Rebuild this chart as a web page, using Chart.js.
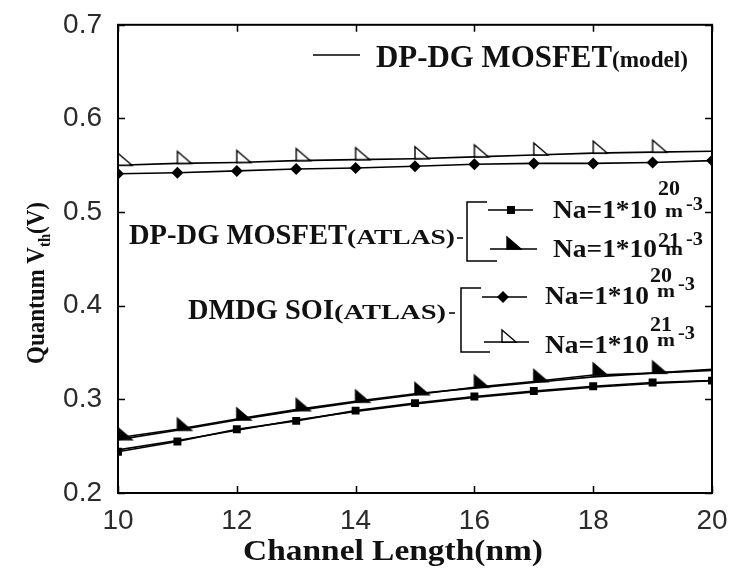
<!DOCTYPE html>
<html>
<head>
<meta charset="utf-8">
<script src="https://cdn.jsdelivr.net/npm/chart.js@4.4.1/dist/chart.umd.min.js"></script>
<style>
  html, body { margin: 0; padding: 0; background: #fff; }
  #wrap { width: 744px; height: 578px; }
</style>
</head>
<body>
<div id="wrap"><canvas id="chart" width="744" height="578"></canvas></div>
<script>
// Channel length (nm)
const channelLength = [10, 11, 12, 13, 14, 15, 16, 17, 18, 19, 20];

// DP-DG MOSFET, ATLAS simulation
const dpdgAtlasNa20 = [0.244, 0.255, 0.268, 0.277, 0.288, 0.296, 0.303, 0.309, 0.314, 0.318, 0.320];
const dpdgAtlasNa21 = [0.257, 0.267, 0.278, 0.288, 0.297, 0.305, 0.313, 0.319, 0.326, 0.328, 0.331];

// DP-DG MOSFET, analytical model
const dpdgModelNa20 = [0.246, 0.256, 0.267, 0.278, 0.287, 0.295, 0.302, 0.308, 0.313, 0.317, 0.320];
const dpdgModelNa21 = [0.259, 0.268, 0.279, 0.289, 0.298, 0.306, 0.312, 0.318, 0.324, 0.328, 0.332];

// DMDG SOI, ATLAS simulation
const dmdgAtlasNa20 = [0.541, 0.542, 0.544, 0.546, 0.547, 0.549, 0.551, 0.552, 0.552, 0.553, 0.555];
const dmdgAtlasNa21 = [0.550, 0.552, 0.553, 0.555, 0.556, 0.557, 0.559, 0.561, 0.563, 0.564, 0.565];

// Axis ticks
const xTicks = [10, 12, 14, 16, 18, 20];
const yTicks = [0.2, 0.3, 0.4, 0.5, 0.6, 0.7];

const SERIF = "'Liberation Serif', 'Times New Roman', serif";
const SANS = "'Liberation Sans', Arial, sans-serif";

// Right-angle triangle marker; the data point sits at its lower-left corner
function triangleMarker(filled) {
  const c = document.createElement('canvas');
  c.width = 34; c.height = 30;
  const g = c.getContext('2d');
  g.beginPath();
  g.moveTo(17, 3);
  g.lineTo(17, 15);
  g.lineTo(31, 15);
  g.closePath();
  g.fillStyle = filled ? '#000' : '#fff';
  g.fill();
  g.lineWidth = 1.4;
  g.strokeStyle = '#000';
  g.stroke();
  return c;
}
const triFilled = triangleMarker(true);
const triOpen = triangleMarker(false);

const pts = arr => channelLength.map((x, i) => ({ x, y: arr[i] }));

function series(values, style, radius) {
  return {
    data: pts(values),
    borderColor: '#000',
    backgroundColor: '#000',
    borderWidth: 1.6,
    pointStyle: style,
    pointRadius: radius,
    pointBorderWidth: 0,
    pointBackgroundColor: '#000',
    tension: 0
  };
}

// Draw text stretched to a given width
function stretchText(ctx, s, x, y, font, width) {
  ctx.font = font;
  const m = ctx.measureText(s).width;
  ctx.save();
  ctx.translate(x, y);
  if (width) ctx.scale(width / m, 1);
  ctx.fillText(s, 0, 0);
  ctx.restore();
}

const framePlugin = {
  id: 'frame',
  afterDatasetsDraw(chart) {
    const { ctx, chartArea: a, scales: { x, y } } = chart;
    ctx.save();
    ctx.strokeStyle = '#000';
    ctx.lineWidth = 2;
    ctx.strokeRect(a.left, a.top, a.right - a.left, a.bottom - a.top);
    ctx.lineWidth = 1.5;
    const tl = 7;
    ctx.beginPath();
    xTicks.forEach(v => {
      const px = Math.round(x.getPixelForValue(v)) + 0.5;
      ctx.moveTo(px, a.bottom); ctx.lineTo(px, a.bottom - tl);
      ctx.moveTo(px, a.top); ctx.lineTo(px, a.top + tl);
    });
    yTicks.forEach(v => {
      const py = Math.round(y.getPixelForValue(v)) + 0.5;
      ctx.moveTo(a.left, py); ctx.lineTo(a.left + tl, py);
      ctx.moveTo(a.right, py); ctx.lineTo(a.right - tl, py);
    });
    ctx.stroke();
    ctx.restore();
  }
};

function naLabel(ctx, x0, b, exp, supDy, mDy, m3Dy) {
  stretchText(ctx, 'Na=1*10', x0, b, `bold 26px ${SERIF}`, 104);
  stretchText(ctx, exp, x0 + 105, b + supDy, `bold 20px ${SERIF}`, 22);
  stretchText(ctx, 'm', x0 + 112, b + mDy, `bold 19px ${SERIF}`, 18);
  stretchText(ctx, '-3', x0 + 133, b + m3Dy, `bold 19px ${SERIF}`, 17);
}

const legendPlugin = {
  id: 'notes',
  afterDraw(chart) {
    const ctx = chart.ctx;
    ctx.save();
    ctx.fillStyle = '#111';
    ctx.strokeStyle = '#000';
    ctx.textBaseline = 'alphabetic';
    ctx.textAlign = 'left';

    // Model line entry
    ctx.lineWidth = 1.6;
    ctx.beginPath(); ctx.moveTo(313, 55); ctx.lineTo(360, 55); ctx.stroke();
    stretchText(ctx, 'DP-DG MOSFET', 376, 67, `bold 31px ${SERIF}`, 236);
    stretchText(ctx, '(model)', 612, 67, `bold 23px ${SERIF}`, 76);

    // Group labels
    stretchText(ctx, 'DP-DG MOSFET', 129, 244, `bold 29px ${SERIF}`, 218);
    stretchText(ctx, '(ATLAS)', 347, 244, `bold 22px ${SERIF}`, 108);
    stretchText(ctx, 'DMDG SOI', 188, 319, `bold 29px ${SERIF}`, 146);
    stretchText(ctx, '(ATLAS)', 334, 319, `bold 22px ${SERIF}`, 112);

    // Brackets
    ctx.lineWidth = 1.5;
    ctx.beginPath();
    ctx.moveTo(457, 238); ctx.lineTo(463, 238);
    ctx.moveTo(487, 202); ctx.lineTo(467, 202); ctx.lineTo(467, 261); ctx.lineTo(497, 261);
    ctx.moveTo(449, 313); ctx.lineTo(455, 313);
    ctx.moveTo(481, 288); ctx.lineTo(461, 288); ctx.lineTo(461, 352); ctx.lineTo(490, 352);
    ctx.stroke();

    // Entry sample lines
    ctx.lineWidth = 1.6;
    ctx.beginPath();
    ctx.moveTo(488, 210); ctx.lineTo(533, 210);
    ctx.moveTo(490, 249); ctx.lineTo(537, 249);
    ctx.moveTo(482, 297); ctx.lineTo(527, 297);
    ctx.moveTo(484, 342); ctx.lineTo(529, 342);
    ctx.stroke();
    // Entry markers
    ctx.fillStyle = '#000';
    ctx.fillRect(507, 206, 8, 8);
    ctx.drawImage(triFilled, 507 - 17, 249 - 15);
    ctx.beginPath();
    ctx.moveTo(503, 291); ctx.lineTo(509, 297); ctx.lineTo(503, 303); ctx.lineTo(497, 297); ctx.closePath();
    ctx.fill();
    ctx.drawImage(triOpen, 502 - 17, 342 - 15);

    // Entry labels
    ctx.fillStyle = '#111';
    naLabel(ctx, 553, 218, '20', -23, -1, -8);
    naLabel(ctx, 553, 257, '21', -10, -2, -12);
    naLabel(ctx, 545, 304, '20', -22, -7, -14);
    naLabel(ctx, 545, 353, '21', -22, -7, -14);

    // Axis titles
    stretchText(ctx, 'Channel Length(nm)', 243, 560, `bold 30px ${SERIF}`, 300);

    // Rotated y title with subscript, squeezed along its length
    ctx.save();
    ctx.translate(44, 283);
    ctx.rotate(-Math.PI / 2);
    const big = `bold 25px ${SERIF}`, small = `bold 16px ${SERIF}`;
    ctx.font = big;
    const w1 = ctx.measureText('Quantum V').width;
    const w3 = ctx.measureText('(V)').width;
    ctx.font = small;
    const w2 = ctx.measureText('th').width;
    const total = w1 + w2 + w3;
    ctx.scale(162 / total, 1);
    let sx = -total / 2;
    ctx.font = big;
    ctx.fillText('Quantum V', sx, 0); sx += w1;
    ctx.font = small;
    ctx.fillText('th', sx, 6); sx += w2;
    ctx.font = big;
    ctx.fillText('(V)', sx, 0);
    ctx.restore();

    ctx.restore();
  }
};

new Chart(document.getElementById('chart'), {
  type: 'line',
  data: {
    datasets: [
      Object.assign(series(dpdgModelNa20, false, 0), { pointRadius: 0 }),
      Object.assign(series(dpdgModelNa21, false, 0), { pointRadius: 0 }),
      series(dpdgAtlasNa20, 'rect', 5.6),
      series(dpdgAtlasNa21, triFilled, 5),
      series(dmdgAtlasNa20, 'rectRot', 6),
      series(dmdgAtlasNa21, triOpen, 5)
    ]
  },
  options: {
    responsive: false,
    animation: false,
    devicePixelRatio: 1,
    layout: { padding: { left: 0, right: 32, top: 24, bottom: 0 } },
    plugins: { legend: { display: false }, tooltip: { enabled: false } },
    scales: {
      x: {
        type: 'linear', min: 10, max: 20,
        afterBuildTicks: s => { s.ticks = xTicks.map(v => ({ value: v })); },
        afterFit: s => { s.height = 85; },
        grid: { display: false },
        border: { display: false },
        ticks: {
          color: '#2b2b2b', padding: 3, maxRotation: 0,
          font: { family: SANS, size: 28 },
          callback: v => String(v)
        }
      },
      y: {
        type: 'linear', min: 0.2, max: 0.7,
        afterBuildTicks: s => { s.ticks = yTicks.map(v => ({ value: v })); },
        afterFit: s => { s.width = 118; },
        grid: { display: false },
        border: { display: false },
        ticks: {
          color: '#2b2b2b', padding: 8,
          font: { family: SANS, size: 28 },
          callback: v => v.toFixed(1)
        }
      }
    }
  },
  plugins: [framePlugin, legendPlugin]
});
</script>
</body>
</html>
